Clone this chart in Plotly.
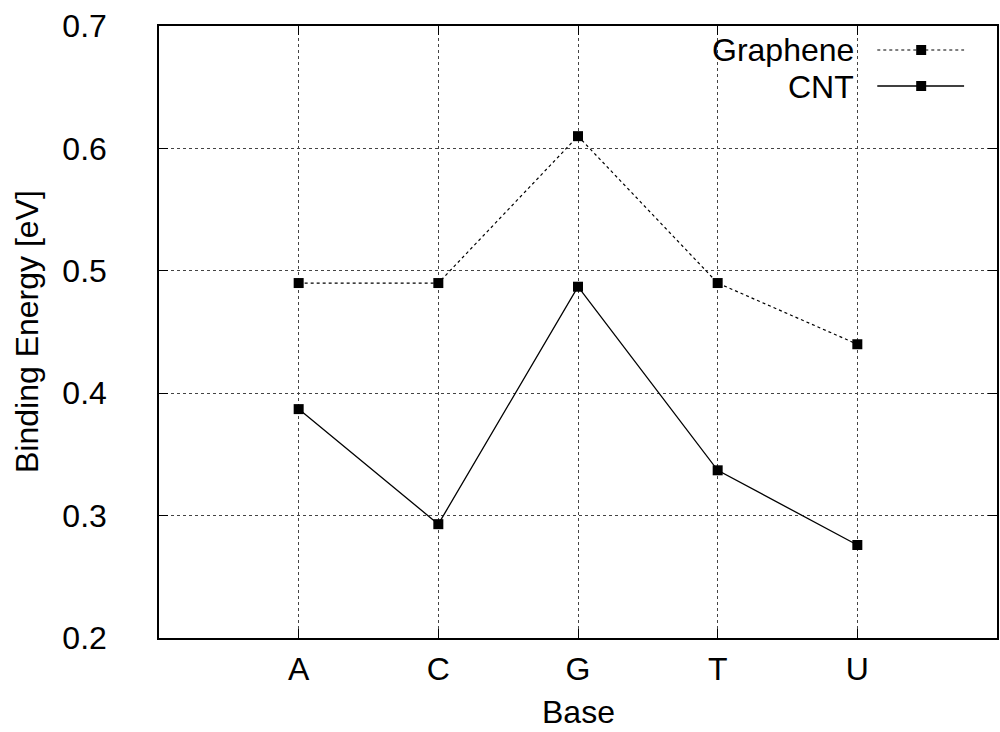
import plotly.graph_objects as go

bases = ["A", "C", "G", "T", "U"]
graphene = [0.49, 0.49, 0.61, 0.49, 0.44]
cnt = [0.387, 0.293, 0.487, 0.337, 0.276]
y_ticks = [0.2, 0.3, 0.4, 0.5, 0.6, 0.7]

FONT = "Liberation Sans"
FS = 32
xpos = list(range(len(bases)))

fig = go.Figure()
fig.add_trace(go.Scatter(x=xpos, y=graphene, mode="lines+markers", name="Graphene",
                         line=dict(color="black", width=1.2, dash="3px,3px"),
                         marker=dict(symbol="square", size=10, color="black")))
fig.add_trace(go.Scatter(x=xpos, y=cnt, mode="lines+markers", name="CNT",
                         line=dict(color="black", width=1.3),
                         marker=dict(symbol="square", size=10, color="black")))

W, H = 1000, 732
L, R, T, B = 159, 1, 26, 94
fig.update_layout(
    width=W, height=H,
    margin=dict(l=L, r=R, t=T, b=B),
    plot_bgcolor="white", paper_bgcolor="white",
    showlegend=False,
    font=dict(family=FONT, size=FS, color="black"),
)
fig.update_xaxes(range=[-1, 5], tickvals=xpos, ticktext=bases,
                 showline=True, linecolor="black", linewidth=1.5, mirror="ticks",
                 ticks="inside", ticklen=9, tickcolor="black", tickwidth=1,
                 showgrid=True, gridcolor="#444", griddash="dot", gridwidth=1,
                 zeroline=False, ticklabelstandoff=2)
fig.update_yaxes(range=[0.2, 0.7], tickvals=y_ticks, ticktext=[f"{v:.1f}" for v in y_ticks],
                 showline=True, linecolor="black", linewidth=1.5, mirror="ticks",
                 ticks="inside", ticklen=9, tickcolor="black", tickwidth=1,
                 showgrid=True, gridcolor="#444", griddash="dot", gridwidth=1,
                 zeroline=False, ticklabelstandoff=44)

# axis titles
fig.add_annotation(text="Base", xref="paper", yref="paper", x=0.5, y=0,
                   yanchor="bottom", yshift=-B, showarrow=False,
                   font=dict(family=FONT, size=FS))
fig.add_annotation(text="Binding Energy [eV]", xref="paper", yref="paper", x=0, y=0.5,
                   textangle=-90, xanchor="center", yanchor="middle",
                   xshift=27 - L, yshift=0, showarrow=False,
                   font=dict(family=FONT, size=FS))

# legend (gnuplot style: text on the left, sample on the right)
pw = W - L - R
ph = H - T - B
def px2paper_x(px):
    return (px - L) / pw
def px2paper_y(py):
    return 1 - (py - T) / ph

legend_rows = [("Graphene", 50, dict(dash="3px,3px", width=1.2)), ("CNT", 86, dict(width=1.3))]
for name, yc, ln in legend_rows:
    fig.add_annotation(text=name, xref="paper", yref="paper", x=px2paper_x(858), y=px2paper_y(yc),
                       xanchor="right", yanchor="middle", showarrow=False, height=35,
                       font=dict(family=FONT, size=FS))
    fig.add_shape(type="line", xref="paper", yref="paper",
                  x0=px2paper_x(879), x1=px2paper_x(966), y0=px2paper_y(yc), y1=px2paper_y(yc),
                  line=dict(color="black", **ln))
    fig.add_shape(type="rect", xref="paper", yref="paper",
                  x0=px2paper_x(918), x1=px2paper_x(928), y0=px2paper_y(yc + 5), y1=px2paper_y(yc - 5),
                  line=dict(width=0), fillcolor="black")

fig.write_html("out.html")
